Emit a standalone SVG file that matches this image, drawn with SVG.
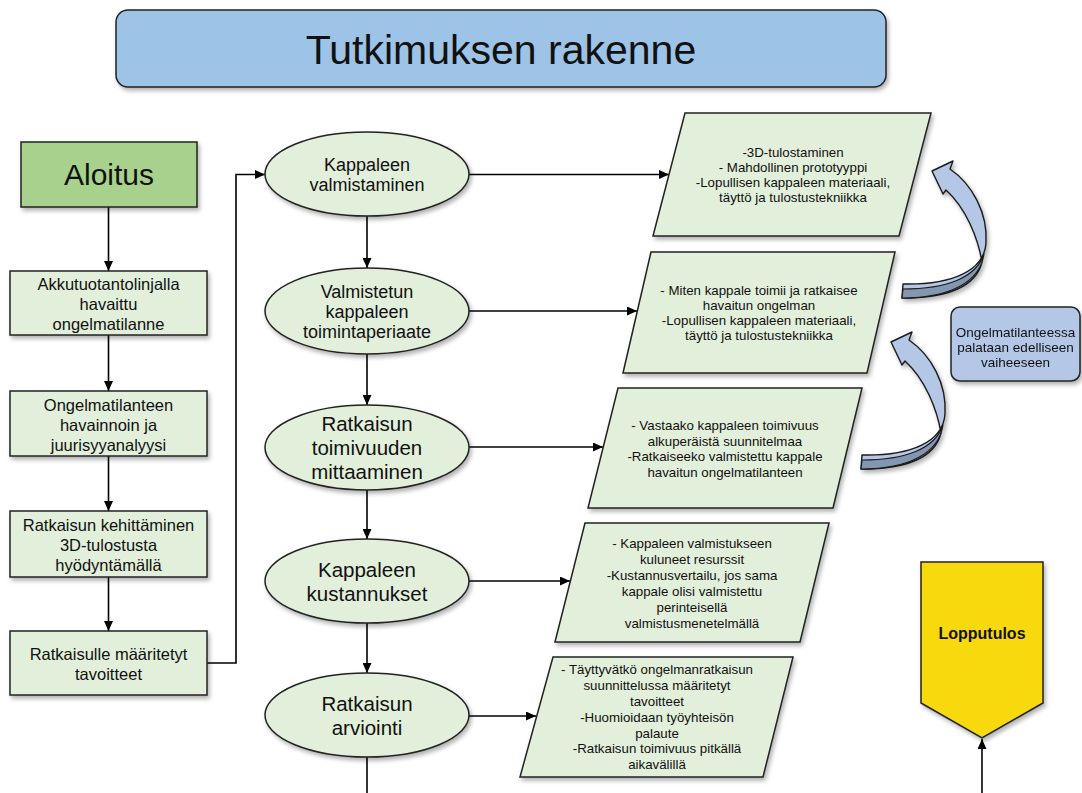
<svg xmlns="http://www.w3.org/2000/svg" width="1082" height="793" viewBox="0 0 1082 793">
<style>
text{font-family:"Liberation Sans",Arial,sans-serif;fill:#111;text-anchor:middle}
.box{fill:#e2efda;stroke:#222;stroke-width:1.5;filter:url(#sh)}
.lb{font-size:16.5px}
.e1{font-size:18px}
.e2{font-size:20.5px}
.pt{font-size:13.3px}
.ct{font-size:13.5px}
.conn{fill:none;stroke:#000;stroke-width:1.6;marker-end:url(#ah)}
.arL{fill:#b4c7e7;stroke:#1a1a1a;stroke-width:1.4;stroke-linejoin:round}
.arD{fill:#8497b0;stroke:#1a1a1a;stroke-width:1.2;stroke-linejoin:round}
</style>
<defs>
<filter id="sh" x="-10%" y="-10%" width="125%" height="130%">
<feDropShadow dx="2" dy="3" stdDeviation="2" flood-color="#000" flood-opacity="0.3"/>
</filter>
<marker id="ah" markerUnits="userSpaceOnUse" markerWidth="10" markerHeight="9" refX="10" refY="4.5" orient="auto">
<path d="M0,0 L10,4.5 L0,9 Z" fill="#000"/>
</marker>
<g id="curv">
<path class="arL" d="M932,171 L953,161 L950,169 C972,184 988,213 986,243 C984,271 952,285 903,284 L902,298 C948,298 976,286 982,262 C978,238 966,208 946,190 L943,194 Z"/>
<path class="arD" d="M984,254 C980,282 950,298 902,298 L903,289 C946,289 976,278 984,254 Z"/>
</g>
</defs>
<rect width="1082" height="793" fill="#fff"/>

<g id="title">
<rect x="116" y="10" width="770" height="77" rx="12" fill="#9dc3e6" stroke="#222" stroke-width="1.5" filter="url(#sh)"/>
<text x="501" y="64" style="font-size:41px">Tutkimuksen rakenne</text>
</g>

<g id="connectors">
<line class="conn" x1="108.5" y1="207" x2="108.5" y2="271"/>
<line class="conn" x1="108.5" y1="335" x2="108.5" y2="391"/>
<line class="conn" x1="108.5" y1="456" x2="108.5" y2="511"/>
<line class="conn" x1="108.5" y1="577" x2="108.5" y2="631"/>
<polyline class="conn" points="207,663 236,663 236,174.5 265,174.5"/>
<line class="conn" x1="367" y1="216" x2="367" y2="268"/>
<line class="conn" x1="367" y1="354" x2="367" y2="405"/>
<line class="conn" x1="367" y1="490" x2="367" y2="539"/>
<line class="conn" x1="367" y1="623" x2="367" y2="673"/>
<line x1="367" y1="757" x2="367" y2="793" stroke="#000" stroke-width="1.6"/>
<line class="conn" x1="469" y1="174.5" x2="669" y2="174.5"/>
<line class="conn" x1="469" y1="311" x2="637" y2="311"/>
<line class="conn" x1="469" y1="447" x2="603" y2="447"/>
<line class="conn" x1="469" y1="581" x2="570" y2="581"/>
<line class="conn" x1="469" y1="716" x2="536" y2="716"/>
<line class="conn" x1="982" y1="793" x2="982" y2="739"/>
</g>

<g id="aloitus">
<rect x="21" y="142" width="176" height="65" fill="#a9d18e" stroke="#222" stroke-width="1.5" filter="url(#sh)"/>
<text x="109" y="185" style="font-size:30px">Aloitus</text>
</g>

<g id="b1">
<rect class="box" x="10" y="271" width="197" height="64"/>
<text class="lb" x="108.5" y="290">Akkutuotantolinjalla</text>
<text class="lb" x="108.5" y="310">havaittu</text>
<text class="lb" x="108.5" y="330">ongelmatilanne</text>
</g>
<g id="b2">
<rect class="box" x="10" y="391" width="197" height="65"/>
<text class="lb" x="108.5" y="410.5">Ongelmatilanteen</text>
<text class="lb" x="108.5" y="430.5">havainnoin ja</text>
<text class="lb" x="108.5" y="450.5">juurisyyanalyysi</text>
</g>
<g id="b3">
<rect class="box" x="10" y="511" width="197" height="66"/>
<text class="lb" x="108.5" y="531">Ratkaisun kehittäminen</text>
<text class="lb" x="108.5" y="551">3D-tulostusta</text>
<text class="lb" x="108.5" y="571">hyödyntämällä</text>
</g>
<g id="b4">
<rect class="box" x="10" y="631" width="197" height="64"/>
<text class="lb" x="108.5" y="660">Ratkaisulle määritetyt</text>
<text class="lb" x="108.5" y="680">tavoitteet</text>
</g>

<g id="e_valmistaminen">
<ellipse class="box" cx="367" cy="174" rx="102" ry="42"/>
<text class="e1" x="367" y="171">Kappaleen</text>
<text class="e1" x="367" y="191">valmistaminen</text>
</g>
<g id="e_toimintaperiaate">
<ellipse class="box" cx="367" cy="311" rx="102" ry="43"/>
<text class="e1" x="367" y="298">Valmistetun</text>
<text class="e1" x="367" y="318">kappaleen</text>
<text class="e1" x="367" y="338">toimintaperiaate</text>
</g>
<g id="e_mittaaminen">
<ellipse class="box" cx="367" cy="447.5" rx="102" ry="42.5"/>
<text class="e2" x="367" y="431">Ratkaisun</text>
<text class="e2" x="367" y="455">toimivuuden</text>
<text class="e2" x="367" y="479">mittaaminen</text>
</g>
<g id="e_kustannukset">
<ellipse class="box" cx="367" cy="581" rx="102" ry="42"/>
<text class="e2" x="367" y="577">Kappaleen</text>
<text class="e2" x="367" y="601">kustannukset</text>
</g>
<g id="e_arviointi">
<ellipse class="box" cx="367" cy="715" rx="102" ry="42"/>
<text class="e2" x="367" y="711">Ratkaisun</text>
<text class="e2" x="367" y="735">arviointi</text>
</g>

<g id="p1">
<polygon class="box" points="685,113 931,113 899,236 653,236"/>
<text class="pt" x="793" y="156.5">-3D-tulostaminen</text>
<text class="pt" x="793" y="171.5">- Mahdollinen prototyyppi</text>
<text class="pt" x="793" y="186.5">-Lopullisen kappaleen materiaali,</text>
<text class="pt" x="793" y="201.5">täyttö ja tulostustekniikka</text>
</g>
<g id="p2">
<polygon class="box" points="651,252 895,252 867,373 623,373"/>
<text class="pt" x="759" y="294.5">- Miten kappale toimii ja ratkaisee</text>
<text class="pt" x="759" y="309.5">havaitun ongelman</text>
<text class="pt" x="759" y="324.5">-Lopullisen kappaleen materiaali,</text>
<text class="pt" x="759" y="339.5">täyttö ja tulostustekniikka</text>
</g>
<g id="p3">
<polygon class="box" points="618,388 862,388 833,508 588,508"/>
<text class="pt" x="725" y="430">- Vastaako kappaleen toimivuus</text>
<text class="pt" x="725" y="445.5">alkuperäistä suunnitelmaa</text>
<text class="pt" x="725" y="461">-Ratkaiseeko valmistettu kappale</text>
<text class="pt" x="725" y="476.5">havaitun ongelmatilanteen</text>
</g>
<g id="p4">
<polygon class="box" points="585,523 829,523 800,642 555,642"/>
<text class="pt" x="692" y="547.5">- Kappaleen valmistukseen</text>
<text class="pt" x="692" y="563.5">kuluneet resurssit</text>
<text class="pt" x="692" y="579.5">-Kustannusvertailu, jos sama</text>
<text class="pt" x="692" y="595.5">kappale olisi valmistettu</text>
<text class="pt" x="692" y="611.5">perinteisellä</text>
<text class="pt" x="692" y="627.5">valmistusmenetelmällä</text>
</g>
<g id="p5">
<polygon class="box" points="553,657 793,657 763,777 520,777"/>
<text class="pt" x="657" y="673.5">- Täyttyvätkö ongelmanratkaisun</text>
<text class="pt" x="657" y="689.5">suunnittelussa määritetyt</text>
<text class="pt" x="657" y="705.5">tavoitteet</text>
<text class="pt" x="657" y="721.5">-Huomioidaan työyhteisön</text>
<text class="pt" x="657" y="737.5">palaute</text>
<text class="pt" x="657" y="753">-Ratkaisun toimivuus pitkällä</text>
<text class="pt" x="657" y="769">aikavälillä</text>
</g>

<g id="return_arrows" filter="url(#sh)">
<use href="#curv"/>
<use href="#curv" transform="translate(-41,171)"/>
</g>

<g id="callout">
<rect x="951" y="307" width="129" height="74" rx="9" fill="#b4c7e7" stroke="#222" stroke-width="1.5" filter="url(#sh)"/>
<text class="ct" x="1015.5" y="336.5">Ongelmatilanteessa</text>
<text class="ct" x="1015.5" y="351.5">palataan edelliseen</text>
<text class="ct" x="1015.5" y="366.5">vaiheeseen</text>
</g>

<g id="lopputulos">
<polygon points="921,562 1043,562 1043,703 982,738 921,703" fill="#f8d90f" stroke="#222" stroke-width="1.5" filter="url(#sh)"/>
<text x="982" y="639" style="font-size:16px;font-weight:bold">Lopputulos</text>
</g>
</svg>
